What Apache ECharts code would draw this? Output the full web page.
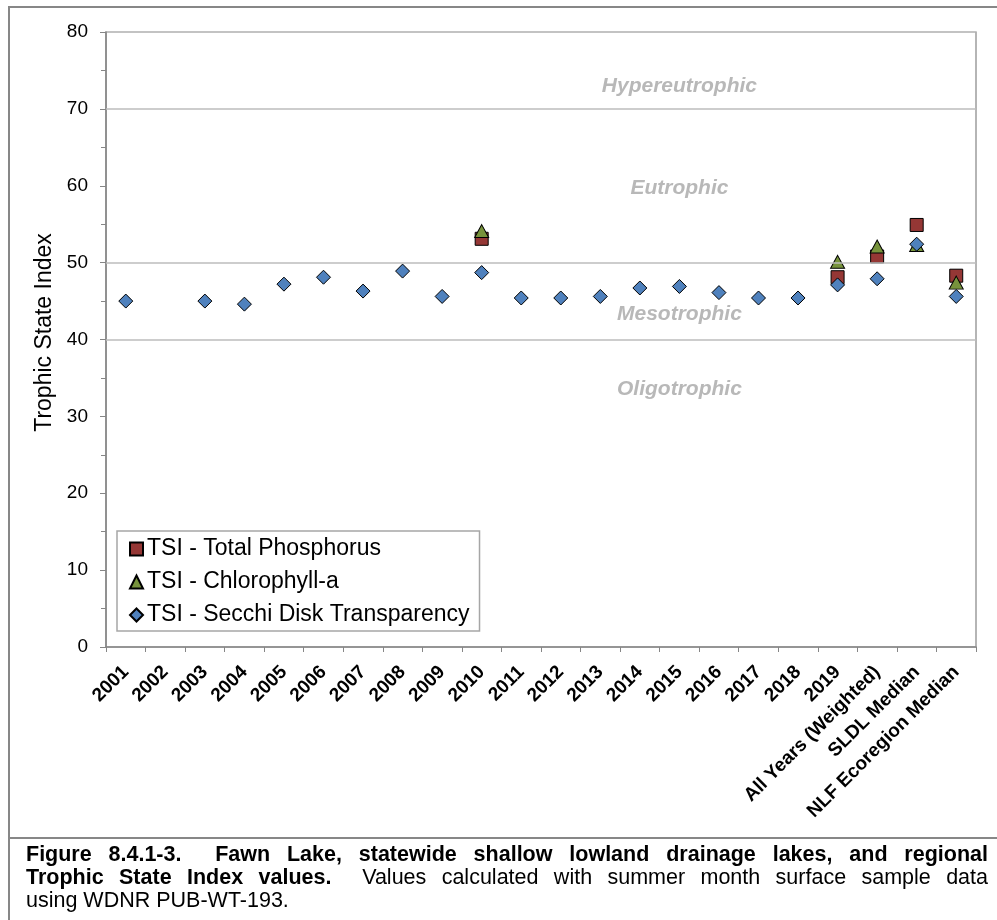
<!DOCTYPE html>
<html>
<head>
<meta charset="utf-8">
<script src="https://cdn.jsdelivr.net/npm/echarts@6/dist/echarts.min.js"></script>
<style>
  html, body { margin: 0; padding: 0; background: #fff; }
  #wrap { position: relative; width: 997px; height: 920px; overflow: hidden; }
  #main { position: absolute; left: 0; top: 0; width: 997px; height: 920px; }
  #caption { position: absolute; left: 26px; top: 843px; width: 962px;
    font-family: "Liberation Sans", Arial, sans-serif; font-size: 21.5px; line-height: 23px; color: #000; }
  #caption div { text-align: justify; text-align-last: justify; white-space: nowrap; }
  #caption div.last { text-align-last: left; }
</style>
</head>
<body>
<div id="wrap">
  <div id="main"></div>
  <div id="caption">
    <div><b>Figure 8.4.1-3.&nbsp; Fawn Lake, statewide shallow lowland drainage lakes, and regional</b></div>
    <div><b>Trophic State Index values.</b>&nbsp; Values calculated with summer month surface sample data</div>
    <div class="last">using WDNR PUB-WT-193.</div>
  </div>
</div>
<script>
// categories (x axis)
var categories = ['2001', '2002', '2003', '2004', '2005', '2006', '2007', '2008', '2009', '2010',
  '2011', '2012', '2013', '2014', '2015', '2016', '2017', '2018', '2019',
  'All Years (Weighted)', 'SLDL Median', 'NLF Ecoregion Median'];

// TSI values (null = no sample)
var tsiTP = [null, null, null, null, null, null, null, null, null, 53.1,
  null, null, null, null, null, null, null, null, 48.1,
  50.8, 54.9, 48.3];
var tsiChl = [null, null, null, null, null, null, null, null, null, 54.1,
  null, null, null, null, null, null, null, null, 50.1,
  52.1, 52.3, 47.4];
var tsiSecchi = [45.0, null, 45.0, 44.6, 47.2, 48.1, 46.3, 48.9, 45.6, 48.7,
  45.4, 45.4, 45.6, 46.7, 46.9, 46.1, 45.4, 45.4, 47.1,
  47.9, 52.4, 45.6];

// trophic zones: label, label height, boundary lines
var zoneNames = ['Hypereutrophic', 'Eutrophic', 'Mesotrophic', 'Oligotrophic'];
var zoneLabelY = [73.0, 59.7, 43.3, 33.5];
var zoneLines = [40, 50, 70];

var font = '"Liberation Sans", Arial, sans-serif';
var chart = echarts.init(document.getElementById('main'));

var option = {
  animation: false,
  textStyle: { fontFamily: font },
  graphic: [
    { type: 'rect', shape: { x: 9, y: 7, width: 1000, height: 1000 },
      style: { fill: 'none', stroke: '#878787', lineWidth: 2 } },
    { type: 'line', shape: { x1: 9, y1: 838, x2: 1000, y2: 838 },
      style: { stroke: '#878787', lineWidth: 2 } }
  ],
  grid: { left: 106, top: 32, right: 21, bottom: 273, show: true, borderColor: '#b0b0b0', borderWidth: 1.5 },
  legend: {
    orient: 'vertical', left: 117, top: 531,
    backgroundColor: '#fff', borderColor: '#a6a6a6', borderWidth: 1.5,
    padding: [6, 10, 4, 12], itemGap: 9, itemWidth: 13, itemHeight: 13,
    textStyle: { fontSize: 23, color: '#000', lineHeight: 24, padding: [0, 0, 0, -1] },
    data: ['TSI - Total Phosphorus', 'TSI - Chlorophyll-a', 'TSI - Secchi Disk Transparency']
  },
  xAxis: {
    type: 'category', data: categories, boundaryGap: true,
    axisLine: { lineStyle: { color: '#868686', width: 1.5 } },
    axisTick: { show: true, length: 5, interval: 0, lineStyle: { color: '#868686' } },
    axisLabel: { interval: 0, rotate: 45, margin: 22, fontSize: 19, fontWeight: 'bold', color: '#000' },
    splitLine: { show: true, interval: function (i) { return i === 19; }, lineStyle: { color: '#b0b0b0', width: 1.5 } }
  },
  yAxis: {
    type: 'value', min: 0, max: 80, interval: 10,
    name: 'Trophic State Index', nameLocation: 'middle', nameGap: 48, nameRotate: 90,
    nameTextStyle: { fontSize: 23, color: '#000', padding: [0, 0, 0, 14] },
    axisLine: { show: true, lineStyle: { color: '#868686', width: 1.5 } },
    axisTick: { show: true, length: 6, lineStyle: { color: '#868686' } },
    minorTick: { show: true, splitNumber: 2, length: 5, lineStyle: { color: '#868686' } },
    axisLabel: { fontSize: 19, color: '#000', margin: 18 },
    splitLine: { show: false }
  },
  series: [
    {
      name: 'zones', type: 'scatter', silent: true, symbolSize: 0, z: 1,
      data: zoneNames.map(function (n, i) { return { value: ['2015', zoneLabelY[i]], name: n }; }),
      label: { show: true, position: 'inside', formatter: '{b}', fontSize: 21, fontWeight: 'bold',
        fontStyle: 'italic', color: '#a6a6a6' },
      markLine: {
        silent: true, symbol: 'none', label: { show: false },
        lineStyle: { color: '#bdbdbd', width: 1.5, type: 'solid' },
        data: zoneLines.map(function (v) { return { yAxis: v }; })
      }
    },
    {
      name: 'TSI - Total Phosphorus', type: 'scatter', symbol: 'rect', symbolSize: 13, z: 3,
      itemStyle: { color: '#953735', opacity: 1, borderColor: '#000', borderWidth: 1 },
      data: tsiTP
    },
    {
      name: 'TSI - Chlorophyll-a', type: 'scatter', symbol: 'triangle', symbolSize: [14, 13], z: 4,
      itemStyle: { color: '#77933c', opacity: 1, borderColor: '#000', borderWidth: 1 },
      data: tsiChl
    },
    {
      name: 'TSI - Secchi Disk Transparency', type: 'scatter', symbol: 'diamond', symbolSize: [14, 14], z: 5,
      itemStyle: { color: '#4f81bd', opacity: 1, borderColor: '#000', borderWidth: 1 },
      data: tsiSecchi
    }
  ]
};

chart.setOption(option);
</script>
</body>
</html>
